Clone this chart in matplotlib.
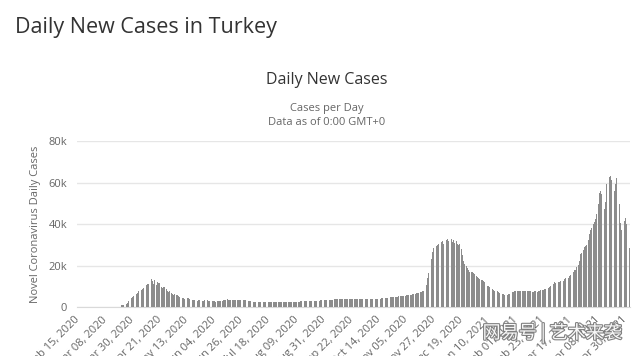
import numpy as np
import pandas as pd
import matplotlib
matplotlib.use('Agg')
import matplotlib.pyplot as plt
import matplotlib.patheffects as pe

plt.rcParams['font.family'] = ['Open Sans', 'DejaVu Sans']

# daily new cases, one list per month
feb_2020 = [0]*15
mar_2020 = [0]*10 + [3, 0, 10, 0, 3, 75, 47, 133, 242, 437, 809, 751, 762, 892, 1459, 1900,
                     3110, 3800, 4430, 4719, 5186]
apr_2020 = [5585, 6386, 6944, 7534, 7851, 8185, 8819, 9304, 9846, 10559, 10951, 11242, 11861,
            13531, 12483, 11318, 12836, 10640, 12200, 11752, 11489, 9416, 9102, 9817, 9739,
            8528, 7541, 7219, 7634, 6799]
may_2020 = [6188, 5983, 6270, 5614, 5832, 5253, 4977, 4848, 4546, 4542, 3914, 4404, 4339, 4135,
            3908, 3810, 3468, 3222, 3158, 2961, 2952, 3186, 3141, 3041, 2987, 2948, 3186, 3182,
            3141, 2853, 2839]
jun_2020 = [2786, 2867, 2689, 2688, 2630, 2687, 2778, 2695, 2795, 2992, 3192, 3309, 3495, 3640,
            3552, 3597, 3429, 3481, 3503, 3612, 3526, 3397, 3489, 3492, 3458, 3391, 3318, 3412,
            3293, 3147]
jul_2020 = [2814, 2710, 2741, 2614, 2608, 2599, 2583, 2546, 2572, 2527, 2512, 2493, 2520, 2482,
            2479, 2457, 2463, 2440, 2418, 2392, 2401, 2384, 2379, 2352, 2371, 2364, 2348, 2343,
            2359, 2339, 2354]
aug_2020 = [2357, 2373, 2419, 2398, 2443, 2488, 2491, 2512, 2556, 2579, 2623, 2668, 2687, 2712,
            2751, 2786, 2803, 2828, 2876, 2911, 2934, 2952, 2978, 3001, 3057, 3102, 3119, 3148,
            3197, 3234, 3268]
sep_2020 = [3311, 3357, 3402, 3452, 3501, 3546, 3589, 3627, 3668, 3702, 3749, 3781, 3812, 3850,
            3873, 3905, 3928, 3954, 3972, 3998, 4010, 4033, 4052, 4061, 4078, 4092, 4087, 4069,
            4051, 4038]
oct_2020 = [3862, 3845, 3821, 3798, 3774, 3756, 3745, 3762, 3789, 3818, 3856, 3902, 3957, 4013,
            4076, 4141, 4209, 4278, 4342, 4410, 4473, 4539, 4602, 4668, 4735, 4801, 4869, 4937,
            5004, 5076, 5148]
nov_2020 = [5221, 5302, 5386, 5471, 5563, 5657, 5758, 5869, 5982, 6103, 6234, 6378, 6534, 6706,
            6895, 7103, 7331, 7582, 7865, 8702, 10514, 13893, 16542, 19436, 23117, 26418, 28593,
            29132, 29281, 29842]
dec_2020 = [30214, 30893, 31219, 31923, 30402, 31518, 32137, 32736, 31896, 32381, 32862, 31476,
            32131, 30896, 31717, 30544, 29861, 30432, 28117, 25189, 22412, 20716, 19537, 18891,
            17632, 17012, 16752, 16918, 16317, 15807, 15093]
jan_2021 = [14512, 13901, 13474, 13212, 12963, 12746, 11848, 10867, 10341, 9962, 9473, 9019,
            8612, 8294, 7924, 7745, 7586, 7348, 6907, 6521, 6304, 6076, 5942, 5893, 6012, 6129,
            6436, 6753, 7021, 7232, 7489]
feb_2021 = [7629, 7813, 7582, 7950, 7861, 7690, 7903, 7738, 7702, 7846, 7663, 7561, 7624, 7455,
            7383, 7497, 7533, 7421, 7716, 7875, 8218, 8012, 8424, 8637, 8531, 8912, 9237, 9407]
mar_2021 = [9891, 10232, 11302, 11837, 11520, 11776, 12137, 11941, 12582, 13134, 12734, 13412,
            13853, 14182, 14019, 15186, 15503, 16151, 16912, 17917, 18021, 19355, 20049, 22253,
            25470, 26123, 27437, 28738, 29264, 30021, 32404]
apr_2021 = [35312, 37303, 38125, 39789, 41114, 42308, 44756, 49584, 54740, 55941, 54703, 52676,
            47151, 50802, 59187, 62797, 62606, 63082, 61028, 57124, 55791, 59491, 61967, 53891,
            49438, 40444, 37312, 38211, 41562, 42712]
may_2021 = [40129, 33961, 28592]

cases = np.array(feb_2020 + mar_2020 + apr_2020 + may_2020 + jun_2020 + jul_2020 + aug_2020
                 + sep_2020 + oct_2020 + nov_2020 + dec_2020 + jan_2021 + feb_2021 + mar_2021
                 + apr_2021 + may_2021)
dates = pd.date_range('2020-02-15', periods=len(cases), freq='D')
x = np.arange(len(cases))

fig = plt.figure(figsize=(6.4, 3.56), dpi=100)
ax = fig.add_axes([0.1203, 0.1376, 0.864, 0.4663])

ax.bar(x, cases, width=0.7, color='#8c8c8c', linewidth=0, zorder=3)

ax.set_xlim(-0.6, len(cases) - 0.4)
ax.set_ylim(0, 80000)
ax.set_yticks([0, 20000, 40000, 60000, 80000])
ax.set_yticklabels(['0', '20k', '40k', '60k', '80k'])
ax.yaxis.grid(True, color='#e6e6e6', linewidth=1, zorder=0)
ax.set_axisbelow(True)
for s in ('top', 'right', 'left'):
    ax.spines[s].set_visible(False)
ax.spines['bottom'].set_color('#d9d9d9')
ax.tick_params(axis='y', length=0, pad=7, labelsize=8, labelcolor='#666666')

tick_pos = x[::22]
ax.set_xticks(tick_pos)
ax.set_xticklabels([d.strftime('%b %d, %Y') for d in dates[tick_pos]],
                   rotation=45, ha='right', va='center', rotation_mode='anchor')
ax.tick_params(axis='x', length=0, pad=8, labelsize=8, labelcolor='#666666')

fig.text(36 / 640, 1 - 224 / 356, 'Novel Coronavirus Daily Cases', rotation=90,
         ha='center', va='center', fontsize=8, color='#666666')

fig.text(15 / 640, 1 - 28 / 356, 'Daily New Cases in Turkey', ha='left', va='center',
         fontsize=15.5, color='#333333')
fig.text(327 / 640, 1 - 80 / 356, 'Daily New Cases', ha='center', va='center',
         fontsize=11.5, color='#333333')
fig.text(327 / 640, 1 - 108 / 356, 'Cases per Day', ha='center', va='center',
         fontsize=8, color='#666666')
fig.text(327 / 640, 1 - 122 / 356, 'Data as of 0:00 GMT+0', ha='center', va='center',
         fontsize=8, color='#666666')

# watermark in the bottom right corner
fig.text(552 / 640, 1 - 333 / 356, '网易号 | 艺术来袭', ha='center', va='center',
         fontsize=13, color='white', alpha=0.95,
         family=['Noto Sans CJK SC', 'DejaVu Sans'],
         path_effects=[pe.withStroke(linewidth=1.6, foreground='#7a7a7a')])

fig.savefig('out.png', dpi=100)
